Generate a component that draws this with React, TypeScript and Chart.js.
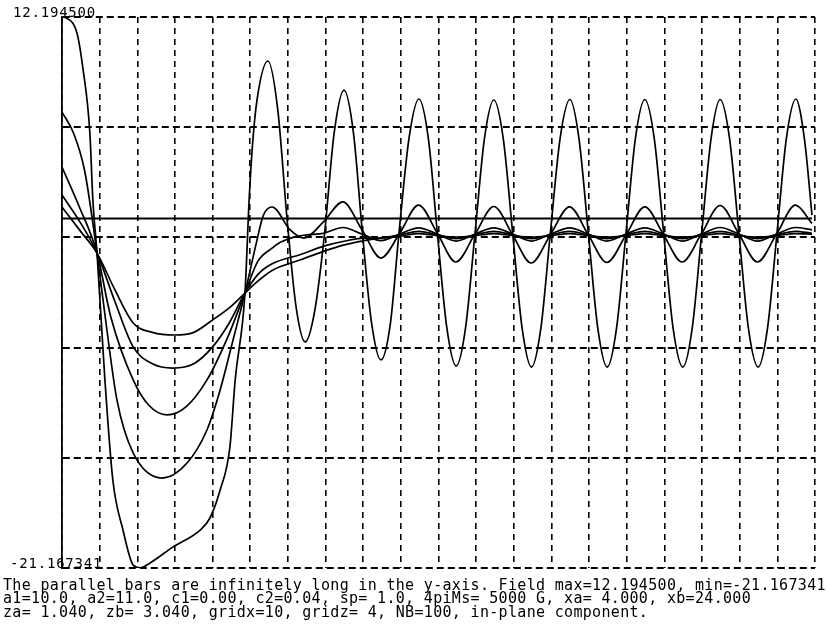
import React, { useEffect, useRef } from 'react';
import { Chart, registerables } from 'chart.js';

Chart.register(...registerables);

const yMax = 12.1945;
const yMin = -21.167341;
const yGridValues = [12.1945, 5.5221318, -1.1502364, -7.8226046, -14.4949728, -21.167341];
const xGridValues = [0, 1, 2, 3, 4, 5, 6, 7, 8, 9, 10, 11, 12, 13, 14, 15, 16, 17, 18, 19, 20];
const yEdgeLabels = ['12.194500', '-21.167341'];

const captionLines = [
  'The parallel bars are infinitely long in the y-axis. Field max=12.194500, min=-21.167341',
  'a1=10.0, a2=11.0, c1=0.00, c2=0.04, sp= 1.0, 4piMs= 5000 G, xa= 4.000, xb=24.000',
  'za= 1.040, zb= 3.040, gridx=10, gridz= 4, NB=100, in-plane component.',
];

const zeroLine: [number, number][] = [[0, 0], [19.92, 0]];

const curveA: [number, number][] = [
  [0, 12.19], [0.13, 12.12], [0.4, 11.2], [0.55, 9.17], [0.74, 5.17], [0.82, 1.11], [0.93, -2.1],
  [1.14, -9.78], [1.35, -15.84], [1.62, -18.87], [1.89, -20.99], [2.07, -21.16], [2.34, -20.86],
  [2.95, -19.89], [3.67, -18.87], [3.93, -18.14], [4.2, -16.45], [4.46, -13.84], [4.6, -9.78],
  [4.86, -4.52], [4.97, 1.11], [5.05, 4.15], [5.18, 7.17], [5.47, 9.53], [5.73, 6.6], [5.98, -0.1],
  [6.22, -5.4], [6.46, -7.48], [6.72, -5.5], [6.97, -1.0], [7.23, 5.2], [7.49, 7.77], [7.74, 5.2],
  [7.98, -0.9], [8.22, -6.3], [8.47, -8.57], [8.72, -6.4], [8.95, -0.9], [9.22, 4.9], [9.48, 7.23],
  [9.73, 4.85], [9.97, -0.9], [10.22, -6.6], [10.47, -8.94], [10.72, -6.6], [10.97, -0.9],
  [11.22, 4.83], [11.47, 7.17], [11.72, 4.83], [11.97, -0.9], [12.22, -6.63], [12.47, -9.0],
  [12.72, -6.63], [12.97, -0.9], [13.23, 4.85], [13.49, 7.2], [13.73, 4.85], [13.98, -0.9],
  [14.23, -6.63], [14.48, -9.0], [14.73, -6.63], [14.98, -0.9], [15.23, 4.85], [15.48, 7.2],
  [15.73, 4.85], [15.98, -0.9], [16.23, -6.63], [16.49, -9.0], [16.74, -6.63], [16.99, -0.9],
  [17.24, 4.85], [17.48, 7.2], [17.73, 4.85], [17.98, -0.9], [18.23, -6.63], [18.49, -9.0],
  [18.74, -6.63], [18.99, -0.9], [19.24, 4.85], [19.49, 7.23], [19.72, 4.8], [19.92, 0.2],
];

const curveB: [number, number][] = [
  [0, 6.44], [0.3, 5.2], [0.6, 2.9], [0.93, -2.1], [1.15, -6.0], [1.46, -11.0], [1.89, -14.2],
  [2.66, -15.72], [3.32, -14.81], [3.85, -12.81], [4.2, -10.39], [4.55, -7.3], [4.86, -4.52],
  [5.15, -1.6], [5.35, 0.2], [5.58, 0.69], [6.06, -0.7], [6.42, -1.19], [6.95, -0.2], [7.46, 1.0],
  [7.97, -0.7], [8.47, -2.4], [8.97, -0.9], [9.47, 0.81], [9.97, -0.9], [10.46, -2.64],
  [10.97, -0.95], [11.47, 0.72], [11.97, -1.0], [12.46, -2.7], [12.97, -1.0], [13.48, 0.7],
  [13.98, -1.0], [14.47, -2.67], [14.98, -1.0], [15.48, 0.7], [15.98, -1.0], [16.47, -2.64],
  [16.98, -0.95], [17.48, 0.78], [17.98, -0.95], [18.47, -2.64], [18.98, -0.95], [19.48, 0.8],
  [19.92, -0.3],
];

const curveC: [number, number][] = [
  [0, 3.1], [0.45, 0.75], [0.93, -2.1], [1.3, -6.0], [1.89, -9.78], [2.3, -11.3], [2.79, -11.9],
  [3.3, -11.4], [3.85, -9.78], [4.4, -7.2], [4.86, -4.52], [5.2, -2.6], [5.58, -1.8], [5.8, -1.45],
  [6.2, -1.1], [6.5, -1.0], [6.95, -0.9], [7.46, -0.55], [7.97, -0.95], [8.47, -1.35],
  [8.97, -0.95], [9.47, -0.57], [9.97, -0.95], [10.47, -1.37], [10.97, -0.95], [11.47, -0.57],
  [11.97, -0.95], [12.47, -1.37], [12.97, -0.95], [13.48, -0.57], [13.98, -0.95], [14.47, -1.37],
  [14.98, -0.95], [15.48, -0.57], [15.98, -0.95], [16.47, -1.37], [16.98, -0.95], [17.48, -0.55],
  [17.98, -0.95], [18.47, -1.37], [18.98, -0.95], [19.48, -0.55], [19.92, -0.7],
];

const curveD: [number, number][] = [
  [0, 1.42], [0.5, -0.3], [0.93, -2.1], [1.4, -5.0], [1.89, -7.78], [2.4, -8.8], [2.95, -9.06],
  [3.5, -8.8], [4.0, -7.78], [4.45, -6.3], [4.86, -4.52], [5.2, -3.4], [5.58, -2.75], [6.32, -2.2],
  [7.0, -1.65], [7.46, -1.4], [8.0, -1.2], [8.47, -1.18], [8.97, -1.0], [9.47, -0.78],
  [9.97, -1.0], [10.47, -1.22], [10.97, -1.0], [11.47, -0.78], [11.97, -1.0], [12.47, -1.22],
  [12.97, -1.0], [13.48, -0.78], [13.98, -1.0], [14.47, -1.22], [14.98, -1.0], [15.48, -0.78],
  [15.98, -1.0], [16.47, -1.22], [16.98, -1.0], [17.48, -0.78], [17.98, -1.0], [18.47, -1.22],
  [18.98, -1.0], [19.48, -0.78], [19.92, -0.9],
];

const curveE: [number, number][] = [
  [0, 0.69], [0.5, -0.8], [0.93, -2.1], [1.4, -4.3], [1.89, -6.33], [2.4, -6.9], [3.0, -7.06],
  [3.5, -6.9], [4.0, -6.15], [4.45, -5.4], [4.86, -4.52], [5.2, -3.8], [5.58, -3.15],
  [6.32, -2.52], [7.0, -1.95], [7.5, -1.6], [8.1, -1.31], [8.5, -1.2], [9.0, -1.07], [9.47, -0.92],
  [9.97, -1.05], [10.47, -1.13], [10.97, -1.05], [11.47, -0.92], [11.97, -1.05], [12.47, -1.13],
  [12.97, -1.05], [13.48, -0.92], [13.98, -1.05], [14.47, -1.13], [14.98, -1.05], [15.48, -0.92],
  [15.98, -1.05], [16.47, -1.13], [16.98, -1.05], [17.48, -0.92], [17.98, -1.05], [18.47, -1.13],
  [18.98, -1.05], [19.48, -0.92], [19.92, -0.95],
];

const curves = [curveA, curveB, curveC, curveD, curveE];

const edgeLabelPlugin = {
  id: 'edgeLabels',
  afterDraw(chart: any) {
    const ctx = chart.ctx as CanvasRenderingContext2D;
    const ys = chart.scales.y;
    ctx.save();
    ctx.fillStyle = '#000';
    ctx.font = '14px "DejaVu Sans Mono"';
    (ctx as any).letterSpacing = '0.8px';
    ctx.textAlign = 'left';
    ctx.textBaseline = 'alphabetic';
    ctx.fillText(yEdgeLabels[0], 13, ys.getPixelForValue(yMax));
    ctx.fillText(yEdgeLabels[1], 10, ys.getPixelForValue(yMin));
    ctx.restore();
  },
};

export default function App() {
  const canvasRef = useRef<HTMLCanvasElement | null>(null);

  useEffect(() => {
    const canvas = canvasRef.current;
    if (!canvas) return;
    const toPts = (arr: [number, number][]) => arr.map(([x, y]) => ({ x, y }));
    const datasets: any[] = curves.map((c) => ({
      data: toPts(c),
      borderColor: '#000',
      borderWidth: 1.7,
      pointRadius: 0,
      fill: false,
      cubicInterpolationMode: 'monotone',
    }));
    datasets.push({
      data: toPts(zeroLine),
      borderColor: '#000',
      borderWidth: 2,
      pointRadius: 0,
      fill: false,
    });

    const chart = new Chart(canvas, {
      type: 'line',
      data: { datasets },
      options: {
        animation: false,
        responsive: false,
        parsing: false as any,
        layout: { padding: { left: 62, top: 17, right: 13, bottom: 69 } },
        plugins: { legend: { display: false }, tooltip: { enabled: false }, title: { display: false } },
        scales: {
          x: {
            type: 'linear',
            min: 0,
            max: 20,
            afterBuildTicks: (axis: any) => {
              axis.ticks = xGridValues.map((v) => ({ value: v }));
            },
            ticks: { display: false },
            grid: { color: '#000', lineWidth: 1.6, drawTicks: false },
            border: { display: false, dash: [6, 5] },
          },
          y: {
            type: 'linear',
            min: yMin,
            max: yMax,
            afterBuildTicks: (axis: any) => {
              axis.ticks = yGridValues.map((v) => ({ value: v }));
            },
            ticks: { display: false },
            grid: { color: '#000', lineWidth: 2, drawTicks: false },
            border: { display: true, color: '#000', width: 1.8, dash: [7, 4] },
          },
        },
      },
      plugins: [edgeLabelPlugin],
    });
    return () => chart.destroy();
  }, []);

  const captionStyle = (top: number): React.CSSProperties => ({
    position: 'absolute',
    left: 3,
    top,
    margin: 0,
    fontFamily: '"DejaVu Sans Mono", monospace',
    fontSize: 15,
    lineHeight: '15px',
    letterSpacing: '0.32px',
    whiteSpace: 'pre',
    color: '#000',
  });

  return (
    <div style={{ position: 'absolute', left: 0, top: 0, width: 828, height: 637, background: '#fff', overflow: 'hidden' }}>
      <canvas ref={canvasRef} width={828} height={637} style={{ position: 'absolute', left: 0, top: 0, width: 828, height: 637 }} />
      {captionLines.map((line, i) => (
        <div key={i} style={captionStyle(578 + i * 13.3)}>{line}</div>
      ))}
    </div>
  );
}
